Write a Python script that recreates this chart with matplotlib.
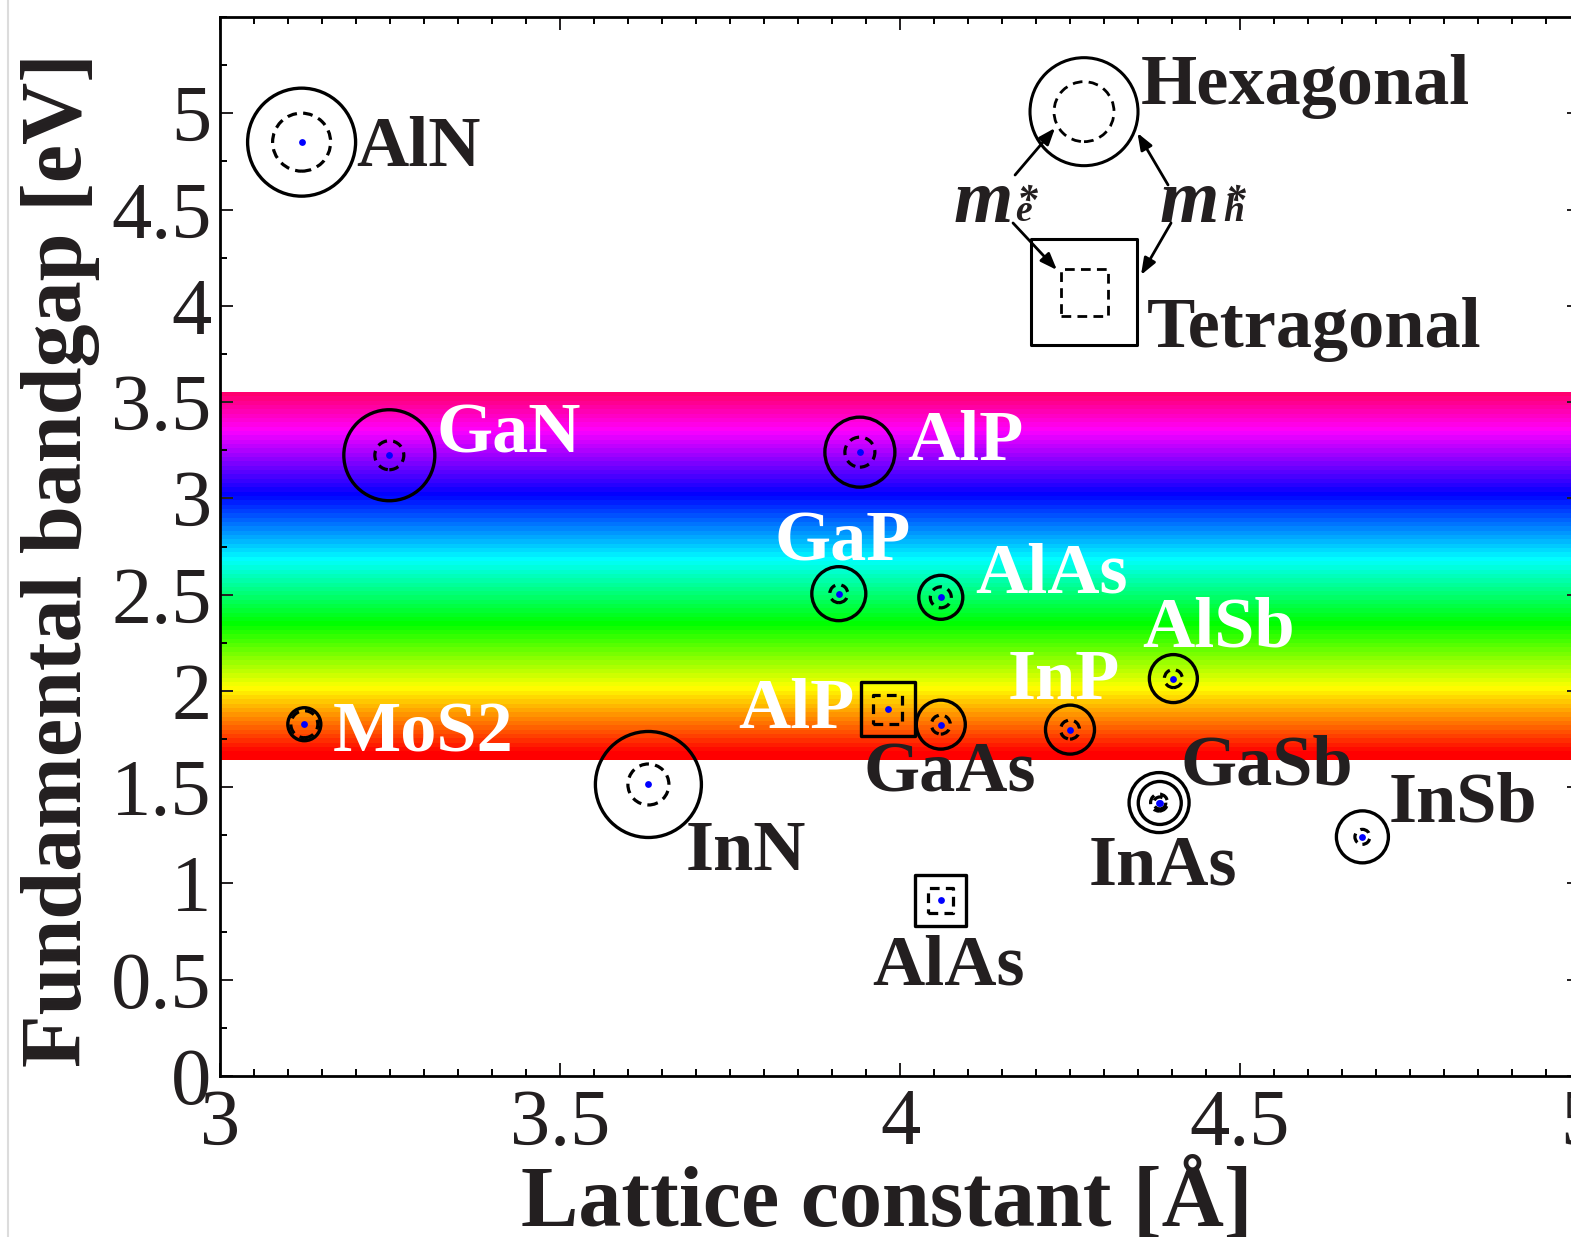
"""Bandgap vs lattice constant with effective-mass markers over the visible band."""
import numpy as np
import matplotlib
matplotlib.use("Agg")
import matplotlib.pyplot as plt
from matplotlib.colors import hsv_to_rgb
from matplotlib.lines import Line2D

plt.rcParams["font.family"] = ["Liberation Serif", "DejaVu Serif"]
plt.rcParams["lines.scale_dashes"] = False

# values
materials = ["AlN", "GaN", "AlP", "GaP", "AlAs", "AlSb", "InP", "AlP",
             "MoS2", "GaAs", "GaSb", "InAs", "InSb", "InN", "AlAs"]
lattice_const = [3.120, 3.249, 3.941, 3.910, 4.060, 4.402, 4.250, 3.982,
                 3.124, 4.060, 4.381, 4.382, 4.680, 3.630, 4.060]
bandgap = [4.85, 3.224, 3.240, 2.505, 2.486, 2.064, 1.799, 1.906,
           1.827, 1.825, 1.420, 1.418, 1.242, 1.514, 0.913]
structure = ["hex", "hex", "hex", "hex", "hex", "hex", "hex", "tet",
             "hex", "hex", "hex", "hex", "hex", "hex", "tet"]
# relative effective masses (drawn as outline sizes)
m_hole = [1.08, 0.91, 0.70, 0.54, 0.44, 0.48, 0.49, 0.54,
          0.33, 0.49, 0.60, 0.43, 0.52, 1.06, 0.51]
m_elec = [0.58, 0.29, 0.30, 0.18, 0.21, 0.18, 0.19, 0.29,
          0.27, 0.19, 0.17, 0.12, 0.15, 0.41, 0.25]

# visible-light band [eV]
band_lo, band_hi = 1.64, 3.55

# label layout: offsets in pixels from the point, and whether text is dark
label_dx = [55, 47, 47, -64, 34, -31, -62, -150, 28, -77, 21, -71, 26, 37, -69]
label_dy = [-24, 3, -8, 33, 5, 32, 31, -19, -27, -67, 18, -82, 15, -86, -84]
label_dark = [True, False, False, False, False, False, False, False,
              False, True, True, True, True, True, True]

DARK = "#231f20"
PX2PT = 0.72          # at dpi=100
MASS2PX = 100.0       # outline diameter in pixels per unit mass
DASH = (0, (7, 4.5))

fig = plt.figure(figsize=(15.71, 12.37), dpi=100)
ax = fig.add_axes([220 / 1571, 161 / 1237, 1360 / 1571, 1059 / 1237])

# stepped rainbow for the visible range
n_steps = 85
energies = np.linspace(band_lo, band_hi, n_steps)
hue = np.clip((energies - 1.67) / (3.36 - 1.67) * 5 / 6, 0, 0.95)
hsv = np.stack([hue, np.ones_like(hue), np.ones_like(hue)], axis=-1)
rgb = hsv_to_rgb(hsv)[:, None, :]
ax.imshow(rgb, extent=[3, 5, band_lo, band_hi], origin="lower",
          aspect="auto", interpolation="nearest", zorder=0)

x = np.array(lattice_const)
y = np.array(bandgap)
mh = np.array(m_hole)
me = np.array(m_elec)
for shape, marker in (("hex", "o"), ("tet", "s")):
    sel = np.array([s == shape for s in structure])
    ax.scatter(x[sel], y[sel], s=(mh[sel] * MASS2PX * PX2PT) ** 2,
               marker=marker, facecolors="none", edgecolors="black",
               linewidths=2.4, zorder=3)
    ax.scatter(x[sel], y[sel], s=(me[sel] * MASS2PX * PX2PT) ** 2,
               marker=marker, facecolors="none", edgecolors="black",
               linewidths=2.3, linestyle=DASH, zorder=3)
ax.scatter(x, y, s=24, color="blue", linewidths=0, zorder=4)

for name, xi, yi, dx, dy, dark in zip(materials, x, y, label_dx, label_dy,
                                      label_dark):
    ax.annotate(name, (xi, yi), xytext=(dx, dy), textcoords="offset pixels",
                ha="left", va="baseline", fontsize=52, fontweight="bold",
                color=DARK if dark else "white", zorder=5)

# key: hexagonal / tetragonal outlines with mass arrows
key_x = 0.6353
ax.scatter([key_x], [0.9106], s=(108 * PX2PT) ** 2, marker="o",
           facecolors="none", edgecolors="black", linewidths=2.2,
           transform=ax.transAxes, clip_on=False, zorder=3)
ax.scatter([key_x], [0.9106], s=(60 * PX2PT) ** 2, marker="o",
           facecolors="none", edgecolors="black", linewidths=2.0,
           linestyle=DASH, transform=ax.transAxes, clip_on=False, zorder=3)
ax.scatter([key_x], [0.7403], s=(106 * PX2PT) ** 2, marker="s",
           facecolors="none", edgecolors="black", linewidths=2.2,
           transform=ax.transAxes, clip_on=False, zorder=3)
ax.scatter([key_x], [0.7403], s=(47 * PX2PT) ** 2, marker="s",
           facecolors="none", edgecolors="black", linewidths=2.0,
           linestyle=DASH, transform=ax.transAxes, clip_on=False, zorder=3)
ax.text(0.6772, 0.9178, "Hexagonal", transform=ax.transAxes, ha="left",
        va="baseline", fontsize=52, fontweight="bold", color=DARK)
ax.text(0.6816, 0.6884, "Tetragonal", transform=ax.transAxes, ha="left",
        va="baseline", fontsize=52, fontweight="bold", color=DARK)

# effective-mass symbols: m with small subscript and stacked asterisk
mass_font = dict(transform=ax.transAxes, ha="left", va="baseline",
                 fontweight="bold", fontstyle="italic", color=DARK)
for mx, sub, sx in ((0.5397, "e", 0.5850), (0.6912, "h", 0.7375)):
    ax.text(mx, 0.8067, "m", fontsize=55, **mass_font)
    ax.text(sx, 0.8074, sub, fontsize=27, **mass_font)
    ax.text(sx + 0.001, 0.8150, "*", fontsize=30, **mass_font)

arrow_kw = dict(arrowstyle="-|>,head_length=1.0,head_width=0.38",
                color="black", lw=2.0, shrinkA=0, shrinkB=0)
for start, end in [((0.5846, 0.8508), (0.6140, 0.8952)),
                   ((0.5831, 0.8055), (0.6154, 0.7611)),
                   ((0.6971, 0.8414), (0.6746, 0.8905)),
                   ((0.6993, 0.8055), (0.6772, 0.7564))]:
    ax.annotate("", xy=end, xytext=start, xycoords="axes fraction",
                textcoords="axes fraction", arrowprops=arrow_kw, zorder=4)

ax.set_xlim(3, 5)
ax.set_ylim(0, 5.5)
ax.set_xticks([3, 3.5, 4, 4.5, 5])
ax.set_xticklabels(["3", "3.5", "4", "4.5", "5"])
ax.set_xticks(np.arange(3, 5.001, 0.05), minor=True)
ax.set_yticks(np.arange(0, 5.01, 0.5))
ax.set_yticklabels(["0", "0.5", "1", "1.5", "2", "2.5", "3", "3.5",
                    "4", "4.5", "5"])
ax.set_yticks(np.arange(0, 5.51, 0.25), minor=True)
ax.tick_params(which="both", direction="in", top=True, right=True,
               width=1.4, color="black")
ax.tick_params(which="major", length=9.5, labelsize=58, colors=DARK)
ax.tick_params(which="minor", length=5)
ax.tick_params(axis="x", which="major", pad=9)
ax.tick_params(axis="y", which="major", pad=6)
for sp in ax.spines.values():
    sp.set_linewidth(2.0)
    sp.set_color("black")

ax.set_xlabel("Lattice constant [Å]", fontsize=62, fontweight="bold",
              color=DARK)
ax.xaxis.label.set_va("baseline")
ax.xaxis.set_label_coords(0.49, -0.1416)
ax.set_ylabel("Fundamental bandgap [eV]", fontsize=62, fontweight="bold",
              color=DARK)
ax.yaxis.set_label_coords(-0.088, 0.487)

# faint page edge on the left
fig.add_artist(Line2D([0.0052, 0.0052], [0, 1], color="#dcdcdc", lw=1.5))

fig.savefig("out.png", dpi=100)
